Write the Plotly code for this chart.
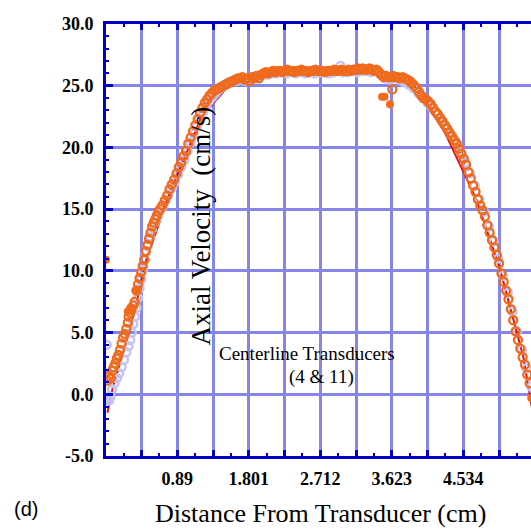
import plotly.graph_objects as go

# ---------------- data ----------------
x_tick_labels = ["0.89", "1.801", "2.712", "3.623", "4.534"]
y_tick_values = [-5.0, 0.0, 5.0, 10.0, 15.0, 20.0, 25.0, 30.0]

# orange open circles (x in cm, axial velocity in cm/s)
orange_x = [0.00, 0.02, 0.04, 0.06, 0.08, 0.10, 0.12, 0.14, 0.16, 0.18, 0.20, 0.22, 0.24, 0.26,
            0.27, 0.29, 0.31, 0.33, 0.35, 0.37, 0.39, 0.41, 0.43, 0.45, 0.47, 0.49, 0.51, 0.53,
            0.55, 0.57, 0.59, 0.61, 0.63, 0.65, 0.67, 0.70, 0.73, 0.76, 0.79, 0.82, 0.85, 0.88,
            0.91, 0.94, 0.97, 1.00, 1.03, 1.06, 1.09, 1.12, 1.15, 1.18, 1.21, 1.24, 1.27, 1.30,
            1.33, 1.36, 1.39, 1.42, 1.45, 1.48, 1.51, 1.54, 1.57, 1.60, 1.63, 1.66, 1.69, 1.72,
            1.75, 1.78, 1.81, 1.84, 1.87, 1.90, 1.93, 1.96, 1.99, 2.02, 2.05, 2.08,
            2.11, 2.14, 2.17, 2.20, 2.23, 2.26, 2.29, 2.32, 2.35, 2.38, 2.41, 2.44, 2.47, 2.50,
            2.53, 2.56, 2.59, 2.62, 2.65, 2.68, 2.71, 2.74, 2.77, 2.80, 2.83, 2.86, 2.89, 2.92,
            2.95, 2.98, 3.01, 3.04, 3.07, 3.10, 3.13, 3.16, 3.19, 3.22, 3.25, 3.28, 3.31, 3.34,
            3.37, 3.40, 3.43, 3.46, 3.49, 3.52, 3.55, 3.58, 3.61, 3.64, 3.67, 3.70, 3.73, 3.76,
            3.79, 3.82, 3.85, 3.88, 3.91, 3.94, 3.97, 4.00, 4.03, 4.06, 4.09, 4.12, 4.15, 4.18,
            4.21, 4.24, 4.27, 4.30, 4.33, 4.36, 4.39, 4.42, 4.45, 4.48, 4.51, 4.54, 4.57, 4.60,
            4.63, 4.66, 4.69, 4.72, 4.75, 4.78, 4.81, 4.84, 4.87, 4.90, 4.93, 4.96, 4.99, 5.02,
            5.05, 5.08, 5.11, 5.14, 5.17, 5.20, 5.23, 5.26, 5.29, 5.32, 5.35, 5.38, 3.63]
orange_y = [1.1, 1.5, 1.3, 1.9, 2.2, 2.5, 2.9, 3.2, 3.6, 4.1, 4.6, 4.9, 5.3, 5.8,
            6.3, 6.6, 6.9, 7.2, 7.5, 8.4, 8.9, 9.4, 9.9, 10.4, 10.9, 11.6, 12.1, 12.6,
            13.1, 13.6, 13.9, 14.2, 14.5, 14.8, 15.0, 15.3, 15.7, 16.1, 16.6, 17.0, 17.4, 17.9,
            18.4, 18.8, 19.3, 19.7, 20.3, 20.8, 21.3, 21.8, 22.3, 22.8, 23.2, 23.6, 23.9, 24.2,
            24.4, 24.6, 24.7, 24.8, 24.9, 25.0, 25.1, 25.2, 25.3, 25.4, 25.5, 25.6, 25.6, 25.7,
            25.5, 25.6, 25.4, 25.7, 25.6, 25.8, 25.6, 25.9, 26.0, 26.1, 26.0, 26.1,
            26.2, 26.1, 26.2, 26.2, 26.1, 26.2, 26.3, 26.2, 26.2, 26.1, 26.2, 26.2, 26.3, 26.2,
            26.2, 26.1, 26.2, 26.2, 26.3, 26.2, 26.2, 26.2, 26.1, 26.2, 26.2, 26.2, 26.3, 26.2,
            26.2, 26.3, 26.2, 26.2, 26.3, 26.2, 26.3, 26.3, 26.4, 26.3, 26.4, 26.3, 26.3, 26.4,
            26.3, 26.2, 26.3, 26.1, 25.9, 25.7, 25.8, 25.7, 25.7, 25.8, 25.7, 25.7, 25.6, 25.7,
            25.6, 25.5, 25.4, 25.2, 25.0, 24.8, 24.5, 24.2, 24.0, 23.9, 23.7, 23.5, 23.2, 22.9,
            22.7, 22.4, 22.1, 21.8, 21.5, 21.2, 20.9, 20.6, 20.3, 19.9, 19.5, 19.1, 18.6, 18.0,
            17.5, 16.9, 16.4, 15.8, 15.3, 14.9, 14.4, 13.7, 13.1, 12.5, 11.9, 11.3, 10.6, 9.8,
            9.1, 8.4, 7.7, 6.9, 6.0, 5.1, 4.4, 3.7, 3.0, 2.4, 1.6, 0.9, 24.7]

# orange filled dots
orange_fill_x = [-0.02, 0.26, 0.29, 0.31, 0.36, 0.38, 3.50, 3.53, 3.60, 5.40]
orange_fill_y = [10.9, 6.7, 7.0, 6.8, 8.4, 8.4, 24.1, 24.1, 23.5, -0.3]

# lavender open circles
lav_x = [-0.01, 0.00, 0.02, 0.04, 0.06, 0.09, 0.12, 0.15, 0.18, 0.21, 0.24, 0.27, 0.29, 0.31,
         0.33, 0.35, 0.37, 0.39, 0.41, 0.43, 0.45, 0.47, 0.49, 0.51, 0.54, 0.57, 0.60, 0.63,
         0.66, 0.70, 0.74, 0.78, 0.82, 0.86, 0.90, 0.94, 0.98, 1.02, 1.06, 1.10, 1.14, 1.18,
         1.22, 1.26, 1.30, 1.34, 1.38, 1.42, 1.46, 1.50, 1.55, 1.60, 1.65, 1.70, 1.75, 1.80,
         1.85, 1.90, 1.95, 2.00, 2.05, 2.10, 2.16, 2.22, 2.28, 2.34, 2.40, 2.46, 2.52, 2.58,
         2.64, 2.70, 2.76, 2.82, 2.88, 2.94, 2.97, 3.00, 3.06, 3.12, 3.18, 3.24, 3.30, 3.36,
         3.42, 3.48, 3.54, 3.60, 3.66, 3.72, 3.78, 3.84, 3.90, 3.96, 4.02, 4.08, 4.14, 4.20,
         4.26, 4.32, 4.38, 4.44, 4.50, 4.56, 4.62, 4.68, 4.74, 4.80, 4.86, 4.92, 4.98, 5.04,
         5.10, 5.16, 5.22, 5.28, 5.34, 5.40]
lav_y = [4.0, -0.3, -0.5, -0.2, 0.4, 0.9, 1.3, 1.7, 2.2, 2.8, 3.4, 3.9, 4.4, 5.0,
         5.7, 6.3, 7.0, 7.8, 8.6, 9.3, 10.1, 10.9, 11.5, 12.0, 12.8, 13.4, 13.9, 14.3,
         14.7, 15.2, 15.7, 16.2, 16.7, 17.2, 17.8, 18.4, 19.0, 19.7, 20.4, 21.1, 21.7, 22.3,
         22.9, 23.4, 23.8, 24.1, 24.4, 24.7, 24.9, 25.1, 25.3, 25.4, 25.4, 25.5, 25.4, 25.5,
         25.6, 25.7, 25.8, 25.9, 25.9, 26.0, 26.0, 26.1, 26.0, 26.1, 26.0, 26.1, 26.0, 26.1,
         26.0, 26.1, 26.1, 26.0, 26.1, 26.2, 26.6, 26.1, 26.1, 26.2, 26.1, 26.2, 26.2, 26.1,
         26.2, 25.9, 25.6, 25.5, 25.6, 25.5, 25.3, 25.1, 24.8, 24.4, 24.0, 23.6, 23.2, 22.7,
         22.2, 21.6, 21.0, 20.4, 19.6, 18.8, 17.9, 16.9, 15.8, 14.8, 13.6, 12.4, 11.0, 9.6,
         8.2, 6.7, 5.1, 3.6, 2.1, 0.6]

# red fitted curve (mostly hidden under the points)
fit_x = [0.00, 0.07, 0.30, 0.50, 0.80, 1.20, 1.60, 2.00, 3.50, 3.90, 4.30, 4.70, 5.00, 5.30, 5.42]
fit_y = [-1.5, 0.6, 5.5, 11.0, 16.4, 22.5, 25.4, 26.0, 26.0, 25.2, 21.2, 15.8, 10.2, 3.0, -1.5]

# ---------------- figure ----------------
ORANGE = "#f06a1c"
LAV = "#c4c4f2"
AXIS_BLUE = "#0000c8"
GRID_BLUE = "#8585ea"

x_major = [float(s) for s in x_tick_labels]
half = (x_major[1] - x_major[0]) / 2
x_grid_vals = []
x_grid_text = []
for v, s in zip(x_major, x_tick_labels):
    x_grid_vals += [v - half, v]
    x_grid_text += ["", s]
x_grid_vals.append(x_major[-1] + half)
x_grid_text.append("")

fig = go.Figure()
fig.add_trace(go.Scatter(x=fit_x, y=fit_y, mode="lines",
                         line=dict(color="#e01010", width=2), hoverinfo="skip"))
fig.add_trace(go.Scatter(x=lav_x, y=lav_y, mode="markers",
                         marker=dict(symbol="circle-open", size=8, color=LAV,
                                     line=dict(width=2.5, color=LAV))))
fig.add_trace(go.Scatter(x=orange_x, y=orange_y, mode="markers",
                         marker=dict(symbol="circle-open", size=8, color=ORANGE,
                                     line=dict(width=2.3, color=ORANGE))))
fig.add_trace(go.Scatter(x=orange_fill_x, y=orange_fill_y, mode="markers",
                         marker=dict(symbol="circle", size=8, color=ORANGE)))

tickfont = dict(family="Liberation Serif", size=18, color="black", weight="bold")

fig.update_xaxes(
    range=[-0.018, 5.397],
    tickmode="array", tickvals=x_grid_vals, ticktext=x_grid_text,
    ticks="inside", ticklen=6, tickwidth=3, tickcolor=AXIS_BLUE,
    showgrid=True, gridcolor=GRID_BLUE, gridwidth=2.5,
    showline=True, linecolor=AXIS_BLUE, linewidth=3, mirror="allticks",
    zeroline=False, tickfont=tickfont, ticklabelstandoff=4,
    minor=dict(tick0=x_major[0], dtick=half / 2, ticks="inside", ticklen=3,
               tickwidth=2, tickcolor=AXIS_BLUE, showgrid=False),
)
fig.update_yaxes(
    range=[-5, 30],
    tickmode="array", tickvals=y_tick_values,
    ticktext=[f"{v:.1f}" for v in y_tick_values],
    ticks="inside", ticklen=7, tickwidth=3, tickcolor=AXIS_BLUE,
    showgrid=True, gridcolor=GRID_BLUE, gridwidth=2.5,
    showline=True, linecolor=AXIS_BLUE, linewidth=3, mirror=False,
    zeroline=False, tickfont=tickfont, ticklabelstandoff=6,
    minor=dict(tick0=0, dtick=1, ticks="inside", ticklen=3,
               tickwidth=2, tickcolor=AXIS_BLUE, showgrid=False),
)

serif = "Liberation Serif"
ann = dict(xref="paper", yref="paper", showarrow=False, xanchor="center", yanchor="middle")
fig.update_layout(
    width=531, height=529,
    margin=dict(l=106, r=0, t=24, b=73),
    paper_bgcolor="white", plot_bgcolor="white",
    showlegend=False,
    annotations=[
        dict(ann, text="Axial Velocity  (cm/s)", textangle=-90, x=0.224, y=0.532,
             font=dict(family=serif, size=27, color="black")),
        dict(ann, text="Centerline Transducers", x=0.474, y=0.238,
             font=dict(family=serif, size=19, color="black")),
        dict(ann, text="(4 & 11)", x=0.506, y=0.183,
             font=dict(family=serif, size=19, color="black")),
        dict(ann, text="Distance From Transducer (cm)", x=0.505, y=-0.132,
             font=dict(family=serif, size=26, color="black")),
        dict(ann, text="(d)", x=-0.188, y=-0.122,
             font=dict(family="Liberation Sans", size=20, color="black")),
    ],
)

fig.write_html("out.html")
